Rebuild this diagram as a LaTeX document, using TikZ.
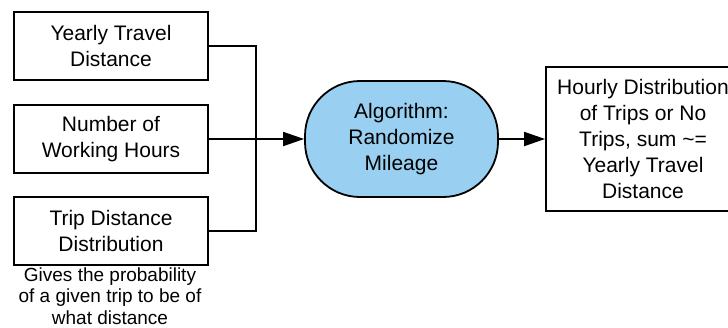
\documentclass[tikz,border=0pt]{standalone}
\usepackage{fontspec}
\setmainfont{Liberation Sans}
\usetikzlibrary{arrows.meta}
\definecolor{algoblue}{RGB}{153,207,240}
\begin{document}
\begin{tikzpicture}[x=1pt,y=-1pt,line width=1.8pt]
	\tikzstyle{every node}=[align=center,font=\fontsize{21}{26}\selectfont]
	\tikzstyle{inbox}=[draw=black,rectangle,minimum width=194pt,minimum height=68pt,inner sep=0pt]
	\tikzstyle{algobox}=[draw=black,fill=algoblue,rectangle,rounded corners=55pt,minimum width=193pt,minimum height=116pt,inner sep=0pt]
	\tikzstyle{outbox}=[draw=black,rectangle,minimum width=194pt,minimum height=144pt,inner sep=0pt]
	\tikzstyle{flow}=[-{Triangle[length=21pt,width=14pt]}]
	\useasboundingbox (0,0) rectangle (728,327);
	\node[inbox] (yearly) at (111,46) {Yearly Travel\\Distance};
	\node[inbox] (hours) at (111,139) {Number of\\Working Hours};
	\node[inbox] (trips) at (111,231) {Trip Distance\\Distribution};
	\node[font=\fontsize{19}{21.7}\selectfont,anchor=north] (note) at (110,263) {Gives the probability\\of a given trip to be of\\what distance};
	\node[algobox] (algo) at (401.5,139) {Algorithm:\\Randomize\\Mileage};
	\node[outbox] (result) at (643,139) {Hourly Distribution\\of Trips or No\\Trips, sum \textasciitilde=\\Yearly Travel\\Distance};
	\coordinate (bus) at (256,139);
	% inputs join up
	\draw (yearly.east) -| (bus) |- (trips.east);
	\draw[flow] (hours.east) -- (algo.west);
	\draw[flow] (algo.east) -- (result.west);
\end{tikzpicture}
\end{document}
